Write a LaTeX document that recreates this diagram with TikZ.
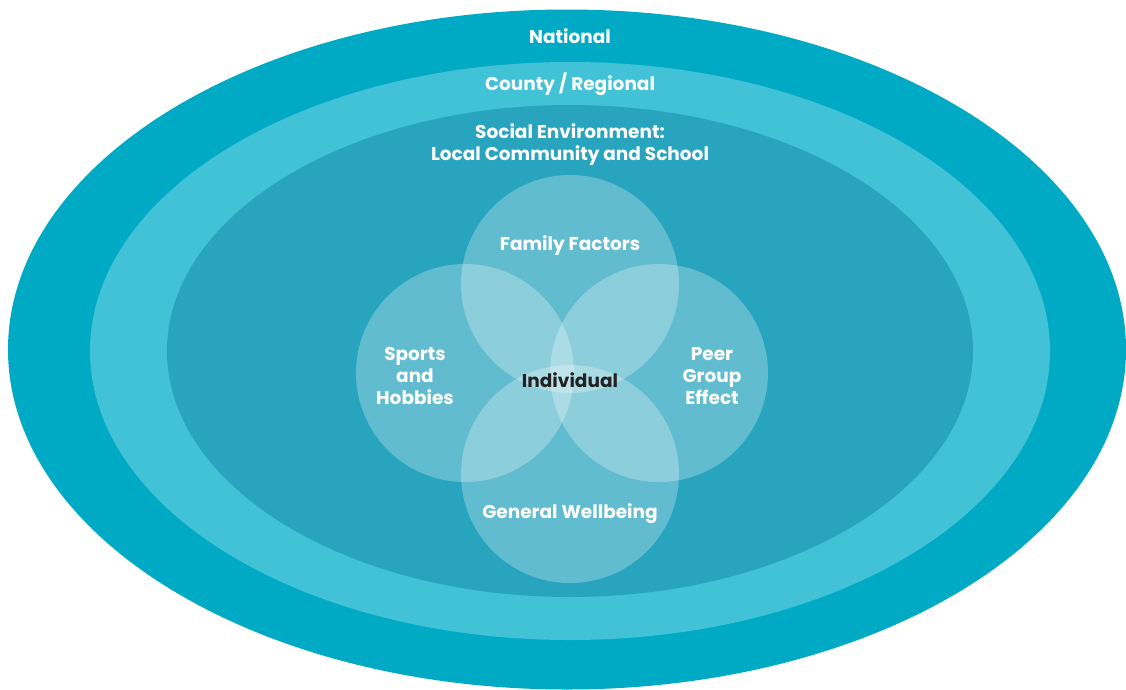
\documentclass[tikz,border=0pt]{standalone}
\usepackage{fontspec}
\setmainfont{Poppins}
\definecolor{outerc}{HTML}{00AAC4}
\definecolor{midc}{HTML}{41C2D6}
\definecolor{innerc}{HTML}{29A4BF}
\definecolor{darktext}{HTML}{222222}
\begin{document}
\begin{tikzpicture}[x=1pt,y=-1pt,
  lbl/.style={text=white,font=\fontsize{18.5}{22}\selectfont\bfseries,align=center,inner sep=0pt},
  bubble/.style={fill=white,fill opacity=0.27,draw=none}]
\useasboundingbox (0,0) rectangle (1126,689);
\fill[outerc] (567,349.5) ellipse [x radius=559,y radius=340];
\fill[midc] (570,351) ellipse [x radius=480,y radius=289];
\fill[innerc] (570,351) ellipse [x radius=403,y radius=246];
\fill[bubble] (570,284) circle (109);
\fill[bubble] (465,373) circle (109);
\fill[bubble] (659,373) circle (109);
\fill[bubble] (570,474) circle (109);
\node[lbl] (national) at (570,36) {National};
\node[lbl] (county) at (570,84) {County / Regional};
\node[lbl] (social) at (570,145) {Social Environment:\\Local Community and School};
\node[lbl] (family) at (570,246) {Family Factors};
\node[lbl] (sports) at (415,376) {Sports\\and\\Hobbies};
\node[lbl] (peer) at (712,376) {Peer\\Group\\Effect};
\node[lbl] (general) at (570,514) {General Wellbeing};
\node[lbl,text=darktext] (individual) at (570,380) {Individual};
\end{tikzpicture}
\end{document}
